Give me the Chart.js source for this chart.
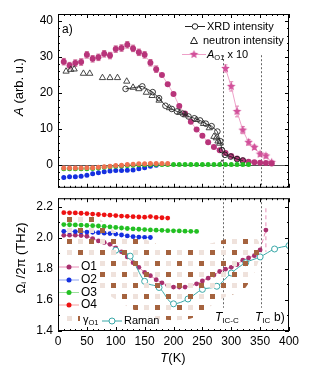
<!DOCTYPE html>
<html>
<head>
<meta charset="utf-8">
<script src="https://cdn.jsdelivr.net/npm/chart.js@4.4.1/dist/chart.umd.min.js"></script>
<style>
  body { margin: 0; background: #fff; }
  #wrap { position: relative; width: 312px; height: 380px; }
  canvas { position: absolute; left: 0; }
</style>
</head>
<body>
<div id="wrap">
  <canvas id="panelA" width="312" height="200" style="top:0"></canvas>
  <canvas id="panelB" width="312" height="194" style="top:186px"></canvas>
</div>
<script>
// ---- panel a) amplitudes ----
const tO1a = [10,20,30,40,50,60,70,80,90,100,110,120,130,140,150,160,170,180,190,200,210,220,230,240,250,260,270,280,290,300,310,320,330,340,350,360,370];
const aO1 = [28.7,27.6,28.3,28.6,30.6,29.5,29.9,30.9,30.4,32.2,32.5,33.4,32.4,31.3,30.6,28.4,26.6,25.0,22.4,19.7,16.3,14.2,11.9,9.8,8.0,6.2,4.9,4.0,3.2,2.4,1.7,1.2,0.8,0.6,0.5,0.4,0.3];
const aO1Err = [0.9,0.9,0.9,0.9,0.9,0.9,0.9,0.9,0.9,0.9,0.9,0.9,0.9,0.9,0.9,0.9,0.9,0,0,0,0,0,0,0,0,0,0,0,0,0,0,0,0,0,0,0,0];

const tStar = [290,300,310,320,330,340,350,360,370];
const aStar = [26.8,21.8,14.8,9.6,6.2,4.8,2.9,2.4,0.6];
const aStarErr = [1.0,1.3,1.5,1.0,0.8,0.6,0.6,0.6,0.4];

const tXrd = [117,146,164,175,186,197,206,216,226,236,246,256,266,276,281,284,289,299,310,320];
const aXrd = [21.1,21.8,20.2,18.5,16.4,15.5,14.8,14.2,13.4,12.9,12.3,11.4,10.7,9.2,6.5,4.0,2.7,2.2,1.5,1.1];

const tNeu = [14,22,28,44,55,77,90,103,119,130,140,153,163,175,193,211,221,240,252,262,270,274,277,280,284];
const aNeu = [26.0,26.5,26.6,25.4,25.4,24.2,24.2,24.2,23.2,21.5,21.1,20.1,19.2,17.9,15.8,14.5,13.8,12.5,11.4,10.2,7.8,7.4,6.5,5.9,0.3];

const tO2a = [10,20,30,40,50,60,70,80,90,100,110,120,130,140,150,160,170];
const aO2 = [-3.6,-3.4,-3.4,-3.3,-3.0,-2.6,-2.3,-2.0,-1.8,-1.7,-1.7,-1.6,-1.5,-1.2,-0.9,-0.5,-0.2];
const tO3a = [10,20,30,40,50,60,70,80,90,100,110,120,130,140,150,160,170,180,190,200,210,220,230,240,250,260,270,280,290,300,310,320,330];
const aO3 = [-1.2,-1.2,-1.2,-1.2,-1.2,-1.1,-1.0,-0.8,-0.6,-0.5,-0.4,-0.3,-0.2,-0.1,-0.1,0,0,0,0,0,0,0,0,0,0,0,0,0,0,0,0,0,0];
const tO4a = [10,20,30,40,50,60,70,80,90,100,110,120,130,140,150,160,170,180,190];
const aO4 = [-1.0,-1.0,-1.0,-1.0,-0.9,-0.9,-0.8,-0.6,-0.5,-0.3,-0.2,0,0.1,0.2,0.2,0.3,0.3,0.3,0.3];

// ---- panel b) frequencies ----
const tO1b = [10,20,30,40,50,60,70,80,90,100,110,120,130,140,150,160,170,180,190,200,210,220,230,240,250,260,270,280,290,300,310,320,330,340,350,360];
const fO1 = [2.016,2.017,2.017,2.015,2.010,1.995,1.980,1.970,1.958,1.935,1.910,1.877,1.840,1.810,1.777,1.756,1.730,1.710,1.694,1.683,1.683,1.683,1.694,1.704,1.722,1.740,1.760,1.783,1.798,1.810,1.828,1.856,1.870,1.885,1.922,2.050];
const fO1Err = [0,0,0,0,0,0,0,0,0,0,0,0,0,0,0,0,0,0,0,0,0,0,0,0,0,0,0,0,0,0,0,0,0,0,0,0.14];
const tO2b = [10,20,30,40,50,60,70,80,90,100,110,120,130,140,150,160];
const fO2 = [2.042,2.041,2.040,2.039,2.037,2.035,2.033,2.030,2.027,2.024,2.018,2.012,2.007,2.005,2.003,2.002];
const tO3b = [10,20,30,40,50,60,70,80,90,100,110,120,130,140,150,160,170,180,190,200,210,220,230,240];
const fO3 = [2.085,2.084,2.083,2.082,2.080,2.078,2.076,2.073,2.070,2.067,2.063,2.060,2.057,2.055,2.053,2.051,2.049,2.048,2.046,2.045,2.044,2.043,2.042,2.041];
const tO4b = [10,20,30,40,50,60,70,80,90,100,110,120,130,140,150,160,170,180,190];
const fO4 = [2.162,2.161,2.160,2.158,2.156,2.153,2.150,2.148,2.146,2.143,2.140,2.138,2.136,2.134,2.133,2.137,2.131,2.129,2.127];
const tRaman = [100,125,150,175,200,225,250,275,300,325,350,375,400];
const fRaman = [1.920,1.882,1.720,1.680,1.575,1.606,1.668,1.688,1.773,1.840,1.877,1.928,1.950];
const tGamma = [5,40,65,85,110,140,170,200,230,260,290,320,340,352];
const gUpper = [2.14,2.14,2.14,2.08,2.02,2.01,1.96,1.95,1.95,1.96,1.99,2.02,2.01,1.95];
const gLower = [1.86,1.80,1.70,1.64,1.58,1.52,1.48,1.47,1.48,1.55,1.62,1.66,1.78,1.90];

const tTransition = [286, 351];
const xTicks = [0,50,100,150,200,250,300,350,400];
const yTicksA = [0,10,20,30,40];
const yTicksB = [1.4,1.6,1.8,2.0,2.2];

const FONT = "'Liberation Sans', Arial, sans-serif";
Chart.defaults.font.family = FONT;

const pts = (xs, ys) => xs.map((x, i) => ({ x, y: ys[i] }));

function makeStar(r, fill) {
  const c = document.createElement('canvas');
  c.width = c.height = 2 * r + 2;
  const g = c.getContext('2d');
  g.beginPath();
  for (let i = 0; i < 10; i++) {
    const rad = i % 2 ? r * 0.45 : r;
    const a = -Math.PI / 2 + i * Math.PI / 5;
    g.lineTo(r + 1 + rad * Math.cos(a), r + 1 + rad * Math.sin(a));
  }
  g.closePath();
  g.fillStyle = fill;
  g.fill();
  return c;
}

function makePattern(ctx) {
  const c = document.createElement('canvas');
  c.width = c.height = 22;
  const g = c.getContext('2d');
  g.fillStyle = '#a5633f';
  g.fillRect(0, 0, 5, 5); g.fillRect(11, 11, 5, 5);
  g.fillStyle = '#efe2dc';
  g.fillRect(11, 0, 5, 5); g.fillRect(0, 11, 5, 5);
  const p = ctx.createPattern(c, 'repeat');
  p.setTransform(new DOMMatrix().translate(12, 20));
  return p;
}

const starImg = makeStar(4.5, '#d2509a');

// move the plot area to fixed pixel edges
function pin(chart, t) {
  const p = chart.options.layout.padding;
  for (let k = 0; k < 3; k++) {
    const a = chart.chartArea;
    p.top += t.top - a.top;
    p.bottom += a.bottom - t.bottom;
    p.left += t.left - a.left;
    p.right += a.right - t.right;
    chart.update();
  }
}

// inward ticks + frame
function frameTicks(chart, yMaj, yMin) {
  const { ctx, chartArea: a, scales: { x, y } } = chart;
  ctx.save();
  ctx.strokeStyle = '#000';
  ctx.lineWidth = 1;
  const seg = (x1, y1, x2, y2) => { ctx.beginPath(); ctx.moveTo(x1, y1); ctx.lineTo(x2, y2); ctx.stroke(); };
  for (let v = 0; v <= 400; v += 10) {
    const px = Math.round(x.getPixelForValue(v)) + 0.5;
    const L = v % 50 === 0 ? 4 : 2;
    seg(px, a.top, px, a.top + L);
    seg(px, a.bottom, px, a.bottom - L);
  }
  const n0 = Math.ceil(y.min / yMin - 1e-6), n1 = Math.floor(y.max / yMin + 1e-6);
  for (let n = n0; n <= n1; n++) {
    const v = n * yMin;
    const py = Math.round(y.getPixelForValue(v)) + 0.5;
    const r = v / yMaj;
    const L = Math.abs(r - Math.round(r)) < 1e-6 ? 4 : 2;
    seg(a.left, py, a.left + L, py);
    seg(a.right, py, a.right - L, py);
  }
  ctx.strokeRect(a.left + 0.5, a.top + 0.5, a.width - 1, a.height - 1);
  ctx.restore();
}

function dashLines(chart, yFrom, yTo) {
  const { ctx, scales: { x, y } } = chart;
  ctx.save();
  ctx.strokeStyle = '#666';
  ctx.lineWidth = 1;
  ctx.setLineDash([2, 2]);
  tTransition.forEach(t => {
    const px = Math.round(x.getPixelForValue(t)) + 0.5;
    ctx.beginPath();
    ctx.moveTo(px, y.getPixelForValue(yFrom));
    ctx.lineTo(px, y.getPixelForValue(yTo));
    ctx.stroke();
  });
  ctx.restore();
}

// text runs: [text, size, italic, dy]
function runs(ctx, list, x, y, align) {
  let w = 0;
  list.forEach(r => { ctx.font = (r[2] ? 'italic ' : '') + r[1] + 'px ' + FONT; w += ctx.measureText(r[0]).width; });
  let cx = align === 'center' ? x - w / 2 : x;
  ctx.textBaseline = 'middle';
  ctx.textAlign = 'left';
  list.forEach(r => {
    ctx.font = (r[2] ? 'italic ' : '') + r[1] + 'px ' + FONT;
    ctx.fillText(r[0], cx, y + (r[3] || 0));
    cx += ctx.measureText(r[0]).width;
  });
}

const errorBars = {
  id: 'errorBars',
  beforeDatasetsDraw(chart) {
    const { ctx } = chart;
    chart.data.datasets.forEach((ds, di) => {
      if (!ds.errors) return;
      const meta = chart.getDatasetMeta(di);
      const ys = chart.scales[meta.yAxisID];
      ctx.save();
      ctx.strokeStyle = ds.errorColor;
      ctx.lineWidth = 1;
      if (ds.errorDash) ctx.setLineDash(ds.errorDash);
      meta.data.forEach((p, i) => {
        const e = ds.errors[i];
        if (!e) return;
        const v = ds.data[i].y;
        const y1 = ys.getPixelForValue(v + e), y2 = ys.getPixelForValue(v - e);
        ctx.beginPath();
        ctx.moveTo(p.x, y1); ctx.lineTo(p.x, y2);
        if (!ds.errorDash) {
          ctx.moveTo(p.x - 2, y1); ctx.lineTo(p.x + 2, y1);
          ctx.moveTo(p.x - 2, y2); ctx.lineTo(p.x + 2, y2);
        }
        ctx.stroke();
      });
      ctx.restore();
    });
  }
};

const panelAPlugin = {
  id: 'panelA',
  beforeDatasetsDraw(chart) {
    const { ctx, chartArea: a, scales: { y } } = chart;
    ctx.save();
    ctx.strokeStyle = '#555';
    ctx.lineWidth = 1;
    const py = Math.round(y.getPixelForValue(0)) + 0.5;
    ctx.beginPath(); ctx.moveTo(a.left, py); ctx.lineTo(a.right, py); ctx.stroke();
    ctx.restore();
    dashLines(chart, 30.5, y.min);
  },
  afterDraw(chart) {
    const { ctx } = chart;
    frameTicks(chart, 10, 2);
    ctx.save();
    ctx.fillStyle = '#000';
    runs(ctx, [['a)', 12]], 62, 30);
    // legend
    ctx.strokeStyle = '#222'; ctx.lineWidth = 1;
    ctx.beginPath(); ctx.moveTo(185, 26.5); ctx.lineTo(205, 26.5); ctx.stroke();
    ctx.fillStyle = '#fff';
    ctx.beginPath(); ctx.arc(195, 26.5, 2.8, 0, Math.PI * 2); ctx.fill(); ctx.stroke();
    ctx.beginPath(); ctx.moveTo(194, 37); ctx.lineTo(197.5, 43.5); ctx.lineTo(190.5, 43.5); ctx.closePath(); ctx.stroke();
    ctx.strokeStyle = '#eea0c8';
    ctx.beginPath(); ctx.moveTo(182, 54.5); ctx.lineTo(206, 54.5); ctx.stroke();
    ctx.drawImage(starImg, 194 - starImg.width / 2, 54.5 - starImg.height / 2);
    ctx.fillStyle = '#000';
    runs(ctx, [['XRD intensity', 11]], 207, 26.5);
    runs(ctx, [['neutron intensity', 11]], 203, 40.5);
    runs(ctx, [['A', 11, true], ['O1', 7.5, false, 3], [' x 10', 11]], 207, 54.5);
    // y title
    ctx.translate(19, 87);
    ctx.rotate(-Math.PI / 2);
    runs(ctx, [['A', 13, true], [' (arb. u.)', 13]], 0, 0, 'center');
    ctx.restore();
  }
};

const panelBPlugin = {
  id: 'panelB',
  beforeDatasetsDraw(chart) {
    dashLines(chart, chart.scales.y.max, 1.55);
  },
  afterDraw(chart) {
    const { ctx } = chart;
    frameTicks(chart, 0.2, 0.1);
    ctx.save();
    // legend block (absolute y minus canvas offset 186)
    const oy = -186;
    ctx.fillStyle = '#fff';
    ctx.fillRect(59, 260 + oy, 40, 52);
    const leg = [
      ['O1', '#e890b8', '#a8306e', 267],
      ['O2', '#8fa4f0', '#1530e0', 280],
      ['O3', '#9ee09e', '#22c022', 292.5],
      ['O4', '#f4a0a0', '#ee1111', 305]
    ];
    leg.forEach(l => {
      const yy = l[3] + oy;
      ctx.strokeStyle = l[1]; ctx.lineWidth = 1;
      ctx.beginPath(); ctx.moveTo(59, yy); ctx.lineTo(79, yy); ctx.stroke();
      ctx.fillStyle = l[2];
      ctx.beginPath(); ctx.arc(69, yy, 2.5, 0, Math.PI * 2); ctx.fill();
      ctx.fillStyle = '#000';
      runs(ctx, [[l[0], 12]], 81, yy);
    });
    ctx.fillStyle = chart.$pattern;
    ctx.fillRect(62, 311 + oy, 18, 13);
    ctx.fillStyle = '#000';
    runs(ctx, [['\u03b3', 11], ['O1', 7.5, false, 3]], 83, 320 + oy);
    ctx.strokeStyle = '#3aa8a8';
    ctx.beginPath(); ctx.moveTo(102, 321 + oy); ctx.lineTo(122, 321 + oy); ctx.stroke();
    ctx.fillStyle = '#fff';
    ctx.beginPath(); ctx.arc(112, 321 + oy, 3, 0, Math.PI * 2); ctx.fill(); ctx.stroke();
    ctx.fillStyle = '#000';
    runs(ctx, [['Raman', 11]], 124, 321 + oy);
    // transition labels
    runs(ctx, [['T', 12, true], ['IC-C', 8, false, 3]], 215, 318 + oy);
    runs(ctx, [['T', 12, true], ['IC', 8, false, 3]], 255, 318 + oy);
    runs(ctx, [['b)', 12]], 274, 318 + oy);
    // axis titles
    runs(ctx, [['T', 13, true], ['(K)', 13]], 173, 358 + oy, 'center');
    ctx.translate(21, 258 + oy);
    ctx.rotate(-Math.PI / 2);
    runs(ctx, [['\u03a9', 13], ['i', 8, false, 3], [' /2\u03c0 (THz)', 13]], 0, 0, 'center');
    ctx.restore();
  }
};

const tickFont = { family: FONT, size: 12 };

const chartA = new Chart(document.getElementById('panelA'), {
  type: 'scatter',
  data: {
    datasets: [
      { data: pts(tO4a, aO4), backgroundColor: '#f07050', pointRadius: 2.5, pointBorderWidth: 0, showLine: false },
      { data: pts(tO3a, aO3), backgroundColor: '#22c022', pointRadius: 2.5, pointBorderWidth: 0, showLine: false },
      { data: pts(tO2a, aO2), backgroundColor: '#1530e0', pointRadius: 2.5, pointBorderWidth: 0, showLine: false },
      { data: pts(tNeu, aNeu), pointStyle: 'triangle', pointRadius: 3.6, backgroundColor: 'rgba(255,255,255,0)', borderColor: '#333', pointBorderWidth: 0.9, showLine: false },
      { data: pts(tXrd, aXrd), pointRadius: 2.8, backgroundColor: 'rgba(255,255,255,0)', borderColor: '#222', pointBorderWidth: 0.9, showLine: true, borderWidth: 0.9 },
      { data: pts(tO1a, aO1), errors: aO1Err, errorColor: '#c8608f', pointRadius: 3, backgroundColor: '#b8347a', pointBorderWidth: 0, showLine: true, borderColor: '#f0b0d0', borderWidth: 1 },
      { data: pts(tStar, aStar), errors: aStarErr, errorColor: '#e080b0', pointStyle: starImg, showLine: true, borderColor: '#eea0c8', borderWidth: 1 }
    ]
  },
  options: {
    responsive: false, animation: false,
    layout: { padding: { left: 0, right: 23, top: 14, bottom: 7 } },
    plugins: { legend: { display: false }, tooltip: { enabled: false } },
    scales: {
      x: { type: 'linear', min: 0, max: 400, display: false },
      y: {
        min: -6.5, max: 42,
        afterFit: s => { s.width = 58; },
        afterBuildTicks: s => { s.ticks = yTicksA.map(v => ({ value: v })); },
        grid: { display: false, drawTicks: false },
        border: { display: false },
        ticks: { font: tickFont, color: '#000', padding: 5 }
      }
    }
  },
  plugins: [errorBars, panelAPlugin]
});
pin(chartA, { left: 58, right: 289, top: 14, bottom: 193 });

const ctxB = document.getElementById('panelB').getContext('2d');
const bandPattern = makePattern(ctxB);
const lastO1 = tO1b.length - 1;

const chartB = new Chart(ctxB, {
  type: 'scatter',
  data: {
    datasets: [
      { data: pts(tGamma, gUpper), showLine: true, borderWidth: 0, pointRadius: 0, tension: 0.3, fill: false },
      { data: pts(tGamma, gLower), showLine: true, borderWidth: 0, pointRadius: 0, tension: 0.3, fill: '-1', backgroundColor: bandPattern },
      { data: pts(tO4b, fO4), backgroundColor: '#ee1111', pointRadius: 2.4, pointBorderWidth: 0, showLine: true, borderColor: '#f4a0a0', borderWidth: 1 },
      { data: pts(tO3b, fO3), backgroundColor: '#22c022', pointRadius: 2.4, pointBorderWidth: 0, showLine: true, borderColor: '#9ee09e', borderWidth: 1 },
      { data: pts(tO2b, fO2), backgroundColor: '#1530e0', pointRadius: 2.4, pointBorderWidth: 0, showLine: true, borderColor: '#8fa4f0', borderWidth: 1 },
      { data: pts(tRaman, fRaman), pointRadius: 3, backgroundColor: '#fff', borderColor: '#3aa8a8', pointBorderWidth: 1, showLine: true, borderWidth: 1, cubicInterpolationMode: 'monotone' },
      { data: pts(tO1b, fO1), errors: fO1Err, errorColor: '#e890b8', errorDash: [4, 3], backgroundColor: '#a8306e', pointRadius: 2.4, pointBorderWidth: 0, showLine: true, borderColor: '#e890b8', borderWidth: 1,
        segment: { borderDash: c => c.p1DataIndex === lastO1 ? [4, 3] : undefined } }
    ]
  },
  options: {
    responsive: false, animation: false,
    layout: { padding: { left: 0, right: 23, top: 7, bottom: 0 } },
    plugins: { legend: { display: false }, tooltip: { enabled: false } },
    scales: {
      x: {
        type: 'linear', min: 0, max: 400,
        afterFit: s => { s.height = 42; },
        afterBuildTicks: s => { s.ticks = xTicks.map(v => ({ value: v })); },
        grid: { display: false, drawTicks: false },
        border: { display: false },
        ticks: { font: tickFont, color: '#000', padding: 3, maxRotation: 0, autoSkip: false }
      },
      y: {
        min: 1.4, max: 2.255,
        afterFit: s => { s.width = 58; },
        afterBuildTicks: s => { s.ticks = yTicksB.map(v => ({ value: v })); },
        grid: { display: false, drawTicks: false },
        border: { display: false },
        ticks: { font: tickFont, color: '#000', padding: 5, callback: v => v.toFixed(1) }
      }
    }
  },
  plugins: [errorBars, { id: 'pat', beforeInit(c) { c.$pattern = bandPattern; } }, panelBPlugin]
});
pin(chartB, { left: 58, right: 289, top: 7, bottom: 145 });
</script>
</body>
</html>
